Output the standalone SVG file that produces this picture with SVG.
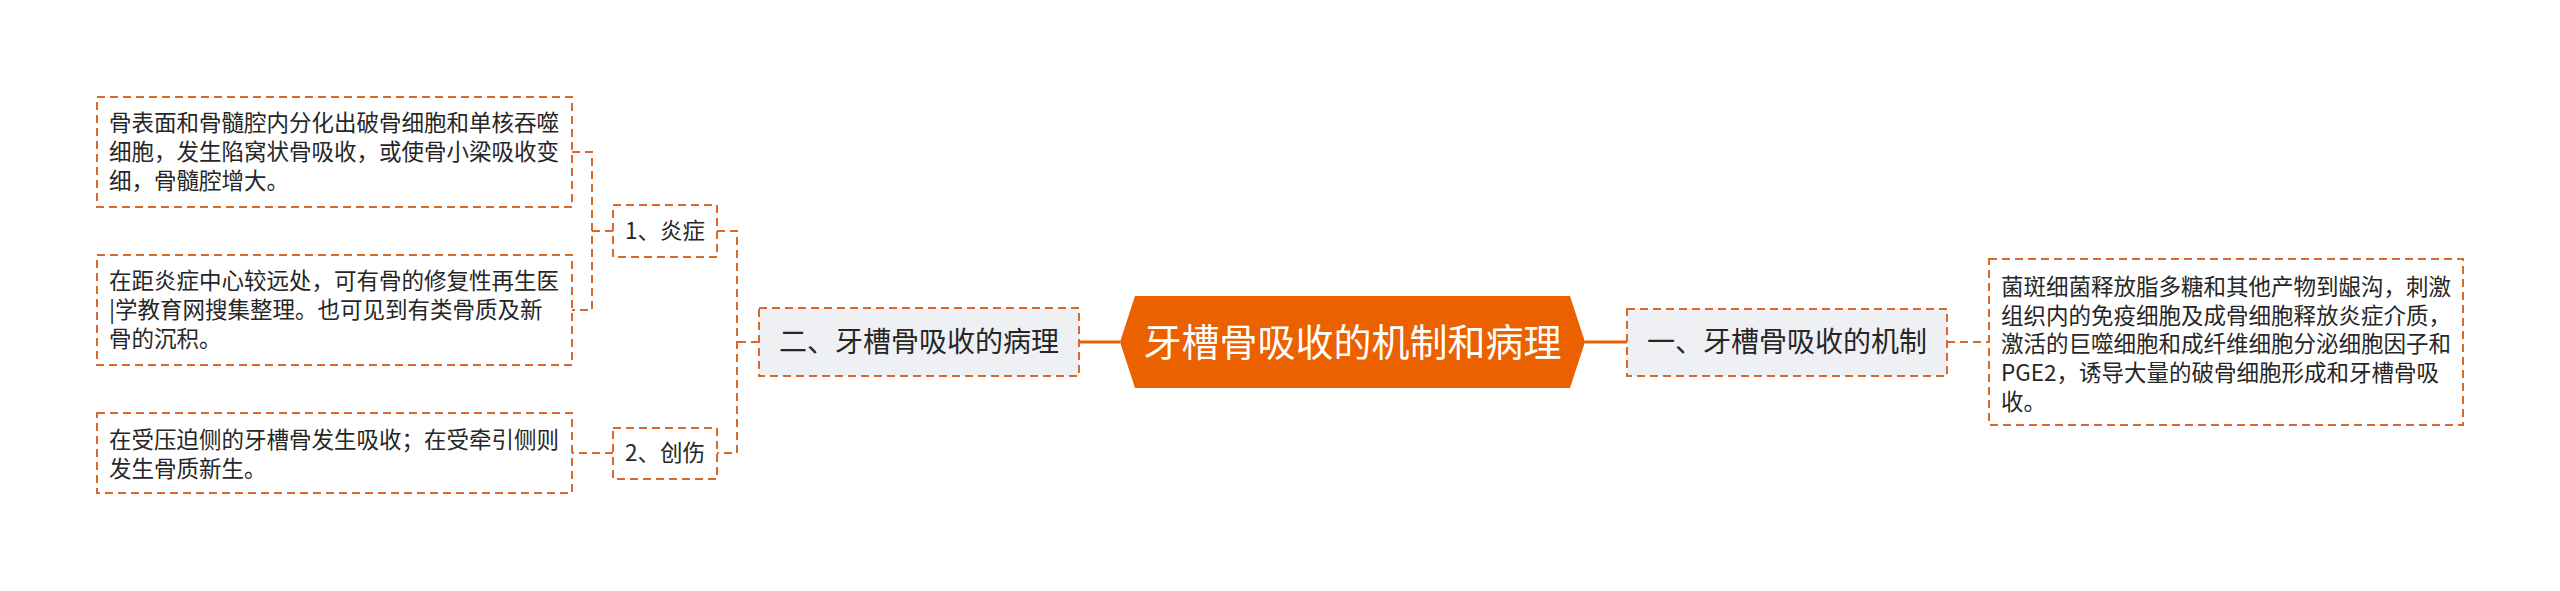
<svg xmlns="http://www.w3.org/2000/svg" width="2560" height="591" viewBox="0 0 2560 591">
<defs>
<style>
.leaf{fill:#ffffff;stroke:#D9682A;stroke-width:2;stroke-dasharray:8 5}
.lvl1{fill:#EEF0F3;stroke:#D9682A;stroke-width:2;stroke-dasharray:8 5}
.t{font-family:"Microsoft YaHei","Noto Sans CJK SC",sans-serif;fill:#262626}
.s{font-size:22.5px}
.m{font-size:28px}
.c{font-size:38px;fill:#ffffff}
.dash{fill:none;stroke:#D9682A;stroke-width:2;stroke-dasharray:8 5}
.solid{fill:none;stroke:#E8600A;stroke-width:3}
</style>
</defs>
<rect width="2560" height="591" fill="#ffffff"/>
<g id="connectors">
<path class="solid" d="M1079,342 H1120"/>
<path class="solid" d="M1585,342 H1627"/>
<path class="dash" d="M1947,342 H1989"/>
<path class="dash" d="M759,342 H737 M717,231 H737 V453 H717"/>
<path class="dash" d="M613,231 H592 M572,152 H592 V310 H572"/>
<path class="dash" d="M613,453 H572"/>
</g>
<g id="root">
<polygon points="1120,342 1135,296 1570,296 1585,342 1570,388 1135,388" fill="#EB6100"/>
<text class="t c" x="1352.5" y="356" text-anchor="middle">牙槽骨吸收的机制和病理</text>
</g>
<g id="n1">
<rect class="lvl1" x="1627" y="309" width="320" height="67"/>
<text class="t m" x="1787" y="352" text-anchor="middle">一、牙槽骨吸收的机制</text>
</g>
<g id="n1-1">
<rect class="leaf" x="1989" y="259" width="474" height="166"/>
<text class="t s" x="2001" y="295">菌斑细菌释放脂多糖和其他产物到龈沟，刺激</text>
<text class="t s" x="2001" y="324">组织内的免疫细胞及成骨细胞释放炎症介质，</text>
<text class="t s" x="2001" y="352">激活的巨噬细胞和成纤维细胞分泌细胞因子和</text>
<text class="t s" x="2001" y="381">PGE2，诱导大量的破骨细胞形成和牙槽骨吸</text>
<text class="t s" x="2001" y="410">收。</text>
</g>
<g id="n2">
<rect class="lvl1" x="759" y="308" width="320" height="68"/>
<text class="t m" x="919" y="352" text-anchor="middle">二、牙槽骨吸收的病理</text>
</g>
<g id="n2-1">
<rect class="leaf" x="613" y="205" width="104" height="52"/>
<text class="t s" x="665" y="239" text-anchor="middle">1、炎症</text>
</g>
<g id="n2-1-1">
<rect class="leaf" x="97" y="97" width="475" height="110"/>
<text class="t s" x="109" y="131">骨表面和骨髓腔内分化出破骨细胞和单核吞噬</text>
<text class="t s" x="109" y="160">细胞，发生陷窝状骨吸收，或使骨小梁吸收变</text>
<text class="t s" x="109" y="189">细，骨髓腔增大。</text>
</g>
<g id="n2-1-2">
<rect class="leaf" x="97" y="255" width="475" height="110"/>
<text class="t s" x="109" y="289">在距炎症中心较远处，可有骨的修复性再生医</text>
<text class="t s" x="109" y="318">|学教育网搜集整理。也可见到有类骨质及新</text>
<text class="t s" x="109" y="347">骨的沉积。</text>
</g>
<g id="n2-2">
<rect class="leaf" x="613" y="428" width="104" height="51"/>
<text class="t s" x="665" y="461" text-anchor="middle">2、创伤</text>
</g>
<g id="n2-2-1">
<rect class="leaf" x="97" y="413" width="475" height="80"/>
<text class="t s" x="109" y="448">在受压迫侧的牙槽骨发生吸收；在受牵引侧则</text>
<text class="t s" x="109" y="477">发生骨质新生。</text>
</g>
</svg>
